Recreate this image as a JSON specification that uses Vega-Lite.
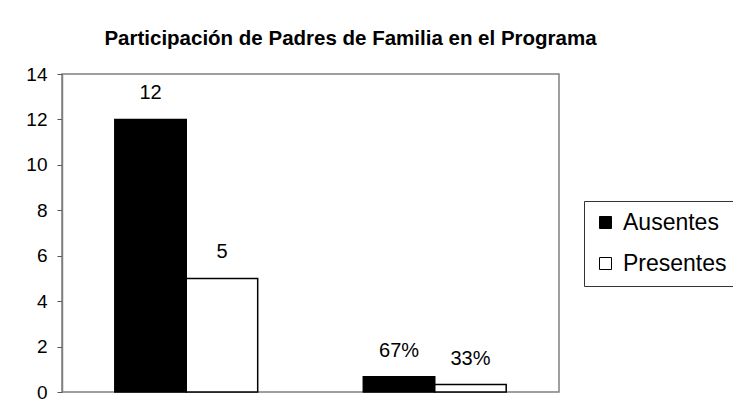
{
  "$schema": "https://vega.github.io/schema/vega-lite/v6.json",
  "autosize": "none",
  "width": 497,
  "height": 318,
  "padding": {"left": 62, "top": 74, "right": 174, "bottom": 15},
  "background": "white",
  "title": {
    "text": "Participación de Padres de Familia en el Programa",
    "fontSize": 20.5,
    "fontWeight": "bold",
    "font": "Liberation Sans",
    "color": "black",
    "anchor": "middle",
    "frame": "group",
    "dx": 40,
    "baseline": "alphabetic",
    "offset": 0
  },
  "data": {
    "values": [
      {"grupo": "Cantidad", "estado": "Ausentes", "valor": 12, "etiqueta": "12"},
      {"grupo": "Cantidad", "estado": "Presentes", "valor": 5, "etiqueta": "5"},
      {"grupo": "Porcentaje", "estado": "Ausentes", "valor": 0.67, "etiqueta": "67%"},
      {"grupo": "Porcentaje", "estado": "Presentes", "valor": 0.33, "etiqueta": "33%"}
    ]
  },
  "encoding": {
    "x": {
      "field": "grupo",
      "type": "nominal",
      "axis": null,
      "scale": {"paddingInner": 0.425, "paddingOuter": 0.2125}
    },
    "xOffset": {
      "field": "estado",
      "type": "nominal",
      "sort": ["Ausentes", "Presentes"],
      "scale": {"paddingInner": 0, "paddingOuter": 0}
    },
    "y": {
      "field": "valor",
      "type": "quantitative",
      "scale": {"domain": [0, 14], "nice": false},
      "axis": {
        "title": null,
        "values": [0, 2, 4, 6, 8, 10, 12, 14],
        "grid": false,
        "domainColor": "#808080",
        "domainWidth": 1.5,
        "tickColor": "#555555",
        "tickSize": 5,
        "labelPadding": 10,
        "labelFontSize": 19,
        "labelColor": "black",
        "labelFont": "Liberation Sans"
      }
    }
  },
  "layer": [
    {
      "mark": {"type": "bar", "stroke": "black", "strokeWidth": 1.5},
      "encoding": {
        "color": {
          "field": "estado",
          "type": "nominal",
          "sort": ["Ausentes", "Presentes"],
          "scale": {"domain": ["Ausentes", "Presentes"], "range": ["black", "white"]},
          "legend": {
            "title": null,
            "orient": "none",
            "legendX": 522,
            "legendY": 127,
            "symbolType": "square",
            "symbolSize": 144,
            "symbolStrokeColor": "black",
            "symbolStrokeWidth": 1,
            "symbolOpacity": 1,
            "labelFontSize": 23,
            "labelFont": "Liberation Sans",
            "labelColor": "black",
            "labelOffset": 6,
            "rowPadding": 17,
            "padding": 10,
            "symbolOffset": 0,
            "strokeColor": "#333333",
            "fillColor": "white"
          }
        }
      }
    },
    {
      "mark": {
        "type": "text",
        "baseline": "alphabetic",
        "align": "center",
        "dy": -20,
        "fontSize": 20,
        "font": "Liberation Sans",
        "color": "black"
      },
      "encoding": {
        "text": {"field": "etiqueta", "type": "nominal"}
      }
    }
  ],
  "config": {
    "font": "Liberation Sans",
    "view": {"stroke": "#808080", "strokeWidth": 1.5}
  }
}
